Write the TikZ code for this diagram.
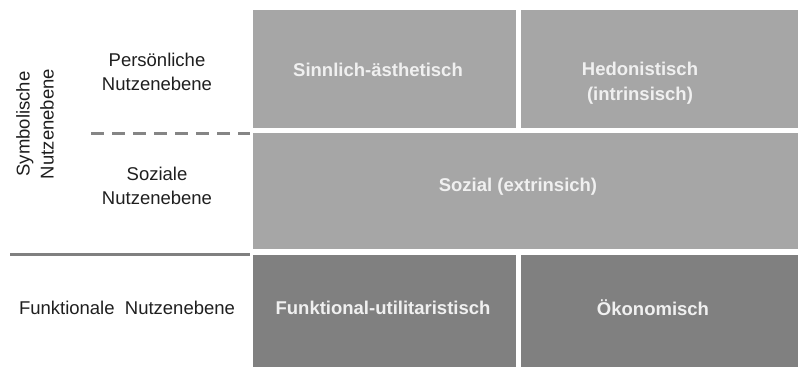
\documentclass[tikz,border=0pt]{standalone}
\usepackage{fontspec}
\setmainfont{Liberation Sans}
\usepackage{tikz}
\usetikzlibrary{calc}

\definecolor{lightfill}{HTML}{A6A6A6}
\definecolor{darkfill}{HTML}{808080}
\definecolor{ruleline}{HTML}{858585}

\begin{document}
\begin{tikzpicture}[x=1pt,y=-1pt,
    levelbox/.style={rectangle,draw=none,inner sep=0pt,anchor=north west},
    boxtext/.style={text=white!94!black,font=\fontsize{18.5}{25}\selectfont\bfseries,align=center},
    sidetext/.style={text=black!88,font=\fontsize{18.5}{24}\selectfont,align=center}]
		\useasboundingbox (0,0) rectangle (798,367);
		\coordinate (DashStart) at (91,133);
		\coordinate (DashEnd)   at (250,133);
		\coordinate (RuleStart) at (10,254);
		\coordinate (RuleEnd)   at (250,254);

		% the value boxes
		\node[levelbox,fill=lightfill,minimum width=263pt,minimum height=118pt] (Sinnlich) at (253,10) {};
		\node[levelbox,fill=lightfill,minimum width=277pt,minimum height=118pt] (Hedon) at (521,10) {};
		\node[levelbox,fill=lightfill,minimum width=545pt,minimum height=116pt] (Sozial) at (253,133) {};
		\node[levelbox,fill=darkfill,minimum width=263pt,minimum height=112pt] (Funktional) at (253,255) {};
		\node[levelbox,fill=darkfill,minimum width=277pt,minimum height=112pt] (Oekonom) at (521,255) {};

		\node[boxtext] (SinnlichText) at (378,70) {Sinnlich-ästhetisch};
		\node[boxtext] (HedonText) at (640,83) {Hedonistisch\\(intrinsisch)};
		\node[boxtext] (SozialText) at (518,187) {Sozial (extrinsich)};
		\node[boxtext] (FunktionalText) at (383,308) {Funktional-utilitaristisch};
		\node[boxtext] (OekonomText) at (653,308) {Ökonomisch};

		% the levels on the left
		\node[sidetext,rotate=90] (Symbolisch) at (35,124) {Symbolische\\Nutzenebene};
		\node[sidetext] (Persoenlich) at (157,72) {Persönliche\\Nutzenebene};
		\node[sidetext] (Sozialebene) at (157,186) {Soziale\\Nutzenebene};
		\node[sidetext] (Funktionalebene) at (127,308) {Funktionale\ \ Nutzenebene};

		\draw[ruleline,line width=3pt,dash pattern=on 13pt off 8pt] (DashStart) -- (DashEnd);% between the symbolic levels
		\draw[darkfill,line width=3pt] (RuleStart) -- (RuleEnd);% symbolic vs. functional
	  \end{tikzpicture}
\end{document}
